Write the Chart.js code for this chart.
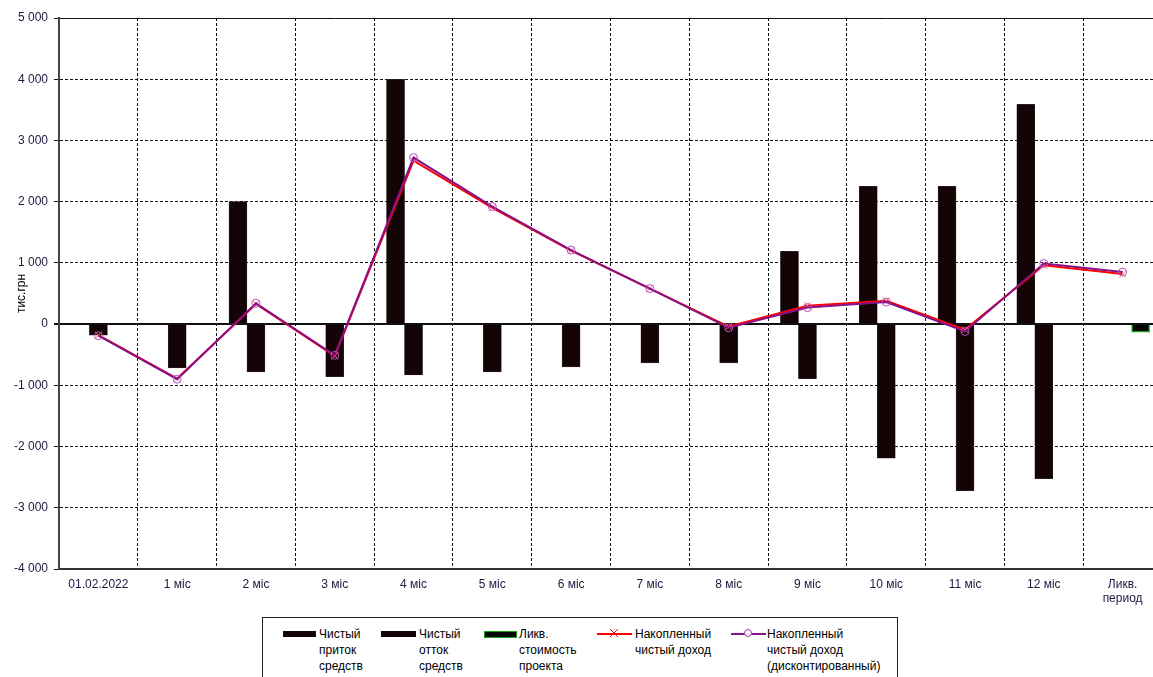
<!DOCTYPE html>
<html>
<head>
<meta charset="utf-8">
<script src="https://cdn.jsdelivr.net/npm/chart.js@4/dist/chart.umd.min.js"></script>
<style>
  html, body { margin: 0; padding: 0; background: #fff; overflow: hidden; }
  #wrap { position: relative; width: 1175px; height: 677px; }
  #legend {
    position: absolute; left: 262px; top: 617px; width: 634px; height: 80px;
    border: 1px solid #222; background: #fff;
    font: 12px "Liberation Sans", Arial, sans-serif; color: #000;
  }
  .item { position: absolute; top: 8px; line-height: 16px; }
  .sw { position: absolute; }
</style>
</head>
<body>
<div id="wrap">
  <canvas id="myChart"></canvas>
  <div id="legend"></div>
</div>
<script>
var categories = ['01.02.2022', '1 міс', '2 міс', '3 міс', '4 міс', '5 міс', '6 міс',
    '7 міс', '8 міс', '9 міс', '10 міс', '11 міс', '12 міс', ['Ликв.', 'период']];
var inflow = [null, null, 2000, null, 4000, null, null, null, null, 1190, 2250, 2250, 3590, null];
var outflow = [-180, -715, -780, -860, -830, -780, -700, -635, -635, -890, -2190, -2720, -2525, null];
var liquidation = [null, null, null, null, null, null, null, null, null, null, null, null, null, -130];
var cumIncome = [-180, -890, 330, -520, 2670, 1900, 1200, 580, -40, 300, 380, -90, 960, 820];
var cumDiscounted = [-190, -900, 340, -510, 2720, 1920, 1210, 580, -60, 270, 360, -120, 990, 850];
var seriesNames = [
    ['Чистый', 'приток', 'средств'],
    ['Чистый', 'отток', 'средств'],
    ['Ликв.', 'стоимость', 'проекта'],
    ['Накопленный', 'чистый доход'],
    ['Накопленный', 'чистый доход', '(дисконтированный)']
];

var barColor = '#150405';
var tickColor = '#1a1a40';

function fmt(v) {
    var s = String(Math.abs(v));
    if (s.length > 3) s = s.slice(0, s.length - 3) + ' ' + s.slice(-3);
    return (v < 0 ? '-' : '') + s;
}

const ctx = document.getElementById('myChart').getContext('2d');
const myChart = new Chart(ctx, {
    type: 'bar',
    data: {
        labels: categories,
        datasets: [{
            label: seriesNames[0].join(' '),
            data: inflow,
            backgroundColor: barColor,
            borderColor: '#3a3a3a',
            borderWidth: 0.5,
            barThickness: 18,
            order: 3
        }, {
            label: seriesNames[1].join(' '),
            data: outflow,
            backgroundColor: barColor,
            borderColor: '#3a3a3a',
            borderWidth: 0.5,
            barThickness: 18,
            order: 3
        }, {
            label: seriesNames[2].join(' '),
            data: liquidation,
            backgroundColor: '#050505',
            borderColor: '#1aa01a',
            borderWidth: 1.5,
            barThickness: 18,
            order: 3
        }, {
            type: 'line',
            label: seriesNames[3].join(' '),
            data: cumIncome,
            borderColor: '#ff0000',
            borderWidth: 2,
            pointStyle: 'crossRot',
            pointRadius: 5,
            pointBorderColor: '#ff7070',
            pointBorderWidth: 1,
            tension: 0,
            order: 2
        }, {
            type: 'line',
            label: seriesNames[4].join(' '),
            data: cumDiscounted,
            borderColor: '#88108a',
            borderWidth: 2,
            pointStyle: 'circle',
            pointRadius: 4,
            pointBackgroundColor: 'rgba(0,0,0,0)',
            pointBorderColor: '#b050c0',
            pointBorderWidth: 1,
            tension: 0,
            order: 1
        }]
    },
    options: {
        responsive: true,
        maintainAspectRatio: false,
        animation: false,
        layout: { padding: { top: 18, right: 13, bottom: 68, left: 0 } },
        plugins: {
            legend: { display: false },
            tooltip: { enabled: false }
        },
        scales: {
            x: {
                grid: {
                    offset: true,
                    color: '#111',
                    lineWidth: 1,
                    drawTicks: false
                },
                border: {
                    display: true,
                    color: '#333',
                    width: 2,
                    dash: function (c) { return c.index === 0 ? [] : [3, 2]; }
                },
                ticks: {
                    color: tickColor,
                    font: { family: '"Liberation Sans", Arial, sans-serif', size: 12 },
                    padding: 8,
                    maxRotation: 0,
                    autoSkip: false
                },
                afterFit: function (scale) { scale.height = 40; }
            },
            y: {
                min: -4000,
                max: 5000,
                grid: {
                    color: '#111',
                    lineWidth: function (c) { return c.tick && c.tick.value === 0 ? 2 : 1; },
                    tickLength: 5
                },
                border: {
                    display: true,
                    color: '#444',
                    width: 2,
                    dash: function (c) {
                        var v = c.tick ? c.tick.value : null;
                        return (v === 0 || v === 5000 || v === -4000) ? [] : [3, 2];
                    }
                },
                ticks: {
                    stepSize: 1000,
                    color: tickColor,
                    font: { family: '"Liberation Sans", Arial, sans-serif', size: 12 },
                    padding: 6,
                    callback: function (v) { return fmt(v); }
                },
                title: {
                    display: true,
                    text: 'тис.грн',
                    color: '#000',
                    font: { family: '"Liberation Sans", Arial, sans-serif', size: 12 },
                    padding: { top: 14, bottom: 0 }
                },
                afterFit: function (scale) { scale.width = 59; }
            }
        }
    }
});

// legend below the plot, multi-line labels like the original
var legendEl = document.getElementById('legend');
var legendX = [20, 118, 221, 334, 468];
var textX = [56, 156, 256, 372, 504];
seriesNames.forEach(function (lines, i) {
    var sw = document.createElement('div');
    sw.className = 'sw';
    sw.style.left = legendX[i] + 'px';
    if (i < 3) {
        sw.style.top = '13px';
        sw.style.width = (i === 1 ? 35 : 33) + 'px';
        sw.style.height = '6px';
        sw.style.background = barColor;
        if (i === 2) { sw.style.background = '#050505'; sw.style.border = '1px solid #1aa01a'; sw.style.height = '5px'; sw.style.width = '31px'; }
    } else {
        sw.style.top = '15px';
        sw.style.width = '35px';
        sw.style.height = '2px';
        sw.style.background = i === 3 ? '#ff0000' : '#88108a';
        var mk = document.createElement('div');
        mk.style.position = 'absolute';
        mk.style.left = '13px';
        mk.style.top = '-4px';
        mk.style.width = '8px';
        mk.style.height = '8px';
        if (i === 3) {
            mk.style.background = 'linear-gradient(45deg, transparent 44%, #ff0000 44%, #ff0000 56%, transparent 56%), linear-gradient(-45deg, transparent 44%, #ff0000 44%, #ff0000 56%, transparent 56%)';
        } else {
            mk.style.boxSizing = 'border-box';
            mk.style.border = '1.5px solid #a040b0';
            mk.style.borderRadius = '50%';
            mk.style.background = '#fff';
        }
        sw.appendChild(mk);
    }
    legendEl.appendChild(sw);
    var t = document.createElement('div');
    t.className = 'item';
    t.style.left = textX[i] + 'px';
    t.innerHTML = lines.join('<br>');
    legendEl.appendChild(t);
});
</script>
</body>
</html>
